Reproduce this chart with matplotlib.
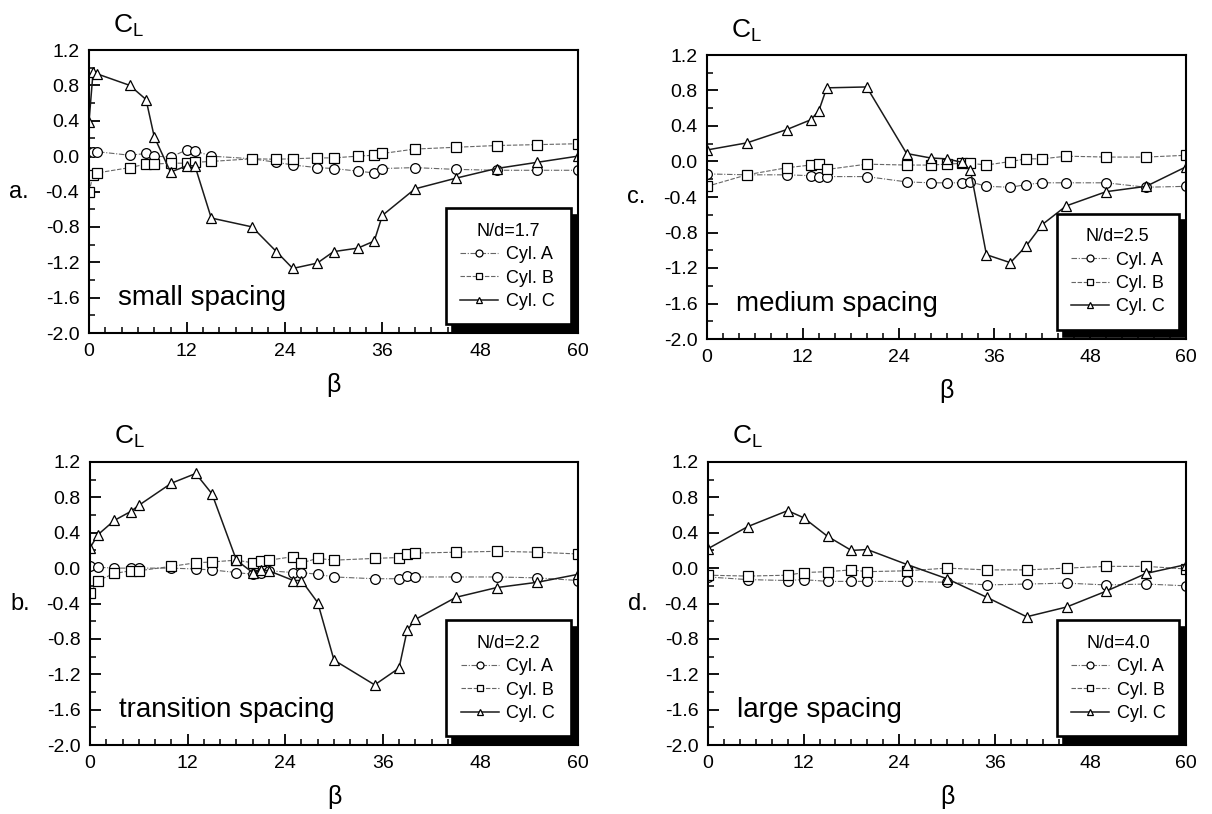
import matplotlib
matplotlib.use("Agg")
import matplotlib.pyplot as plt
from matplotlib.ticker import MultipleLocator

plt.rcParams["font.family"] = ["Liberation Sans", "DejaVu Sans"]

# a. small spacing, N/d = 1.7
beta_a = [0, 0.5, 1, 5, 7, 8, 10, 12, 13, 15, 20, 23, 25, 28, 30, 33, 35, 36, 40, 45, 50, 55, 60]
cyl_a_a = [0.05, 0.05, 0.05, 0.01, 0.03, 0.0, -0.01, 0.07, 0.06, 0.0, -0.03, -0.07, -0.10, -0.13,
           -0.14, -0.17, -0.19, -0.14, -0.13, -0.15, -0.16, -0.16, -0.16]
cyl_b_a = [-0.41, -0.21, -0.19, -0.13, -0.09, -0.09, -0.08, -0.08, -0.07, -0.06, -0.03, -0.035,
           -0.03, -0.02, -0.02, 0.0, 0.01, 0.03, 0.08, 0.10, 0.12, 0.13, 0.14]
cyl_c_a = [0.39, 0.95, 0.93, 0.80, 0.64, 0.22, -0.18, -0.11, -0.11, -0.70, -0.80, -1.08, -1.27,
           -1.21, -1.08, -1.04, -0.96, -0.67, -0.37, -0.25, -0.14, -0.07, 0.0]

# b. transition spacing, N/d = 2.2
beta_b = [0, 1, 3, 5, 6, 10, 13, 15, 18, 20, 21, 22, 25, 26, 28, 30, 35, 38, 39, 40, 45, 50, 55, 60]
cyl_a_b = [0.02, 0.01, 0.0, 0.0, 0.0, 0.0, -0.01, -0.02, -0.05, -0.07, -0.05, -0.03, -0.05, -0.05,
           -0.07, -0.10, -0.12, -0.12, -0.09, -0.10, -0.10, -0.10, -0.11, -0.14]
cyl_b_b = [-0.28, -0.14, -0.06, -0.03, -0.03, 0.02, 0.06, 0.07, 0.09, 0.06, 0.08, 0.09, 0.13, 0.06,
           0.11, 0.09, 0.11, 0.12, 0.16, 0.17, 0.18, 0.19, 0.18, 0.16]
cyl_c_b = [0.23, 0.38, 0.54, 0.64, 0.71, 0.96, 1.07, 0.84, 0.09, -0.05, -0.02, -0.03, -0.14, -0.14,
           -0.39, -1.04, -1.32, -1.13, -0.70, -0.58, -0.33, -0.22, -0.16, -0.07]

# c. medium spacing, N/d = 2.5
beta_c = [0, 5, 10, 13, 14, 15, 20, 25, 28, 30, 32, 33, 35, 38, 40, 42, 45, 50, 55, 60]
cyl_a_c = [-0.14, -0.15, -0.15, -0.16, -0.17, -0.17, -0.17, -0.23, -0.24, -0.24, -0.24, -0.23,
           -0.28, -0.29, -0.26, -0.24, -0.24, -0.24, -0.29, -0.28]
cyl_b_c = [-0.28, -0.15, -0.07, -0.04, -0.03, -0.09, -0.03, -0.04, -0.04, -0.03, -0.02, -0.02,
           -0.04, 0.0, 0.03, 0.03, 0.06, 0.05, 0.05, 0.07]
cyl_c_c = [0.13, 0.21, 0.36, 0.47, 0.57, 0.83, 0.84, 0.09, 0.04, 0.03, -0.01, -0.10, -1.05, -1.14,
           -0.95, -0.71, -0.50, -0.34, -0.28, -0.06]

# d. large spacing, N/d = 4.0
beta_d = [0, 5, 10, 12, 15, 18, 20, 25, 30, 35, 40, 45, 50, 55, 60]
cyl_a_d = [-0.10, -0.13, -0.14, -0.13, -0.15, -0.15, -0.15, -0.15, -0.16, -0.19, -0.18, -0.17,
           -0.19, -0.18, -0.20]
cyl_b_d = [-0.08, -0.09, -0.08, -0.05, -0.04, -0.02, -0.04, -0.03, 0.0, -0.02, -0.02, 0.0, 0.02,
           0.02, -0.01]
cyl_c_d = [0.22, 0.47, 0.65, 0.57, 0.36, 0.20, 0.21, 0.04, -0.12, -0.33, -0.55, -0.44, -0.26,
           -0.06, 0.04]

panels = [
    ("a.", "small spacing", "N/d=1.7", beta_a, cyl_a_a, cyl_b_a, cyl_c_a, (89, 578, 50, 333)),
    ("c.", "medium spacing", "N/d=2.5", beta_c, cyl_a_c, cyl_b_c, cyl_c_c, (707, 1186, 55, 339)),
    ("b.", "transition spacing", "N/d=2.2", beta_b, cyl_a_b, cyl_b_b, cyl_c_b, (90, 578, 462, 745)),
    ("d.", "large spacing", "N/d=4.0", beta_d, cyl_a_d, cyl_b_d, cyl_c_d, (708, 1186, 462, 745)),
]

W, H = 1212, 814
fig = plt.figure(figsize=(W / 100, H / 100), dpi=100)

mk = dict(markersize=7, markerfacecolor="white", markeredgecolor="black", markeredgewidth=0.9)

for letter, note, nd, x, ya, yb, yc, (l, r, t, b) in panels:
    ax = fig.add_axes([l / W, 1 - b / H, (r - l) / W, (b - t) / H])
    ax.plot(x, ya, color="0.4", lw=0.8, ls=(0, (5, 1.5, 1, 1.5)), marker="o", label="Cyl. A", **mk)
    ax.plot(x, yb, color="0.4", lw=0.8, ls=(0, (4, 1.5)), marker="s", label="Cyl. B",
            **dict(mk, markersize=6.5))
    ax.plot(x, yc, color="0.1", lw=1.1, marker="^", label="Cyl. C", **mk)

    ax.set_xlim(0, 60)
    ax.set_ylim(-2.0, 1.2)
    ax.xaxis.set_major_locator(MultipleLocator(12))
    ax.xaxis.set_minor_locator(MultipleLocator(2))
    ax.yaxis.set_major_locator(MultipleLocator(0.4))
    ax.yaxis.set_minor_locator(MultipleLocator(0.2))
    ax.yaxis.set_major_formatter(lambda v, p: f"{v:.1f}")
    ax.tick_params(which="major", direction="in", length=8, width=1.3, labelsize=14, pad=7)
    ax.tick_params(which="minor", direction="in", length=4.5, width=1.1)
    for s in ax.spines.values():
        s.set_linewidth(1.5)

    ax.text(0.06, 0.1, note, transform=ax.transAxes, fontsize=20, ha="left", va="baseline")
    ax.annotate(letter, xy=(0, -0.4), xycoords=("axes fraction", "data"), xytext=(-80, 0),
                textcoords="offset pixels", fontsize=17, ha="left", va="center")
    ax.annotate("C$_\\mathregular{L}$", xy=(0, 1), xycoords="axes fraction", xytext=(24, 18),
                textcoords="offset pixels", fontsize=19, ha="left", va="baseline")
    ax.annotate("\u03b2", xy=(0.5, 0), xycoords="axes fraction", xytext=(0, -40),
                textcoords="offset pixels", fontsize=18, ha="center", va="top")

    leg = ax.legend(title=nd, loc="upper left", bbox_to_anchor=(0.73, 0.025, 0.255, 0.415),
                    mode="expand", fontsize=13, title_fontsize=13, frameon=True, fancybox=False,
                    edgecolor="black", framealpha=1, borderpad=0.8, labelspacing=0.35,
                    handlelength=2.1, handletextpad=0.4, borderaxespad=0,
                    shadow={"ox": 4.5, "oy": -4.5, "facecolor": "black", "edgecolor": "black",
                            "alpha": 1})
    leg.get_frame().set_linewidth(1.9)
    for h in leg.legend_handles:
        h.set_markersize(5)

fig.savefig("out.png", dpi=100, facecolor="white")
